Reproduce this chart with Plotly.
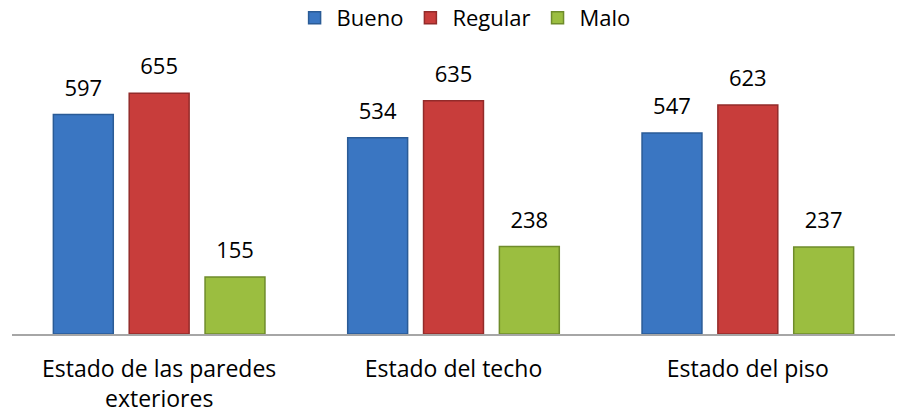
import plotly.graph_objects as go

categories = ["Estado de las paredes<br>exteriores", "Estado del techo", "Estado del piso"]
bueno = [597, 534, 547]
regular = [655, 635, 623]
malo = [155, 238, 237]

series = [
    ("Bueno", bueno, "#3A76C2", "#2A5B96"),
    ("Regular", regular, "#C83D3B", "#932B2A"),
    ("Malo", malo, "#9BBE40", "#6F8C2B"),
]

fig = go.Figure()
for name, vals, col, edge in series:
    fig.add_trace(go.Bar(
        name=name, x=categories, y=vals,
        marker=dict(color=col, line=dict(color=edge, width=1.5)),
        hoverinfo="skip",
    ))
for name, vals, col, edge in series:
    fig.add_trace(go.Scatter(
        name=name, x=categories, y=vals, mode="markers+text",
        text=[str(v) for v in vals], textposition="top center",
        textfont=dict(size=22, color="#000000"),
        marker=dict(size=20, opacity=0, color=col),
        showlegend=False, cliponaxis=False, hoverinfo="skip",
    ))

gap = 0.227
fig.update_layout(
    width=900, height=414,
    margin=dict(l=12, r=5, t=40, b=80, autoexpand=False),
    paper_bgcolor="white", plot_bgcolor="white",
    font=dict(family="Open Sans, Noto Sans, sans-serif", size=22, color="#000000"),
    barmode="group", bargap=gap, bargroupgap=0.21,
    scattermode="group", scattergap=gap,
    showlegend=True,
    legend=dict(orientation="h", x=0.512, xanchor="center", y=1.075, yanchor="middle",
                font=dict(size=22), traceorder="normal", itemwidth=34),
)
fig.update_xaxes(showline=True, linecolor="#A6A6A6", linewidth=1.5, ticks="",
                 tickfont=dict(size=23), showgrid=False, automargin=False,
                 ticklabelstandoff=14)
fig.update_yaxes(range=[0, 800], visible=False, showgrid=False)

fig.write_html("out.html", config={"displayModeBar": False},
               post_script="document.body.style.margin='0';")
